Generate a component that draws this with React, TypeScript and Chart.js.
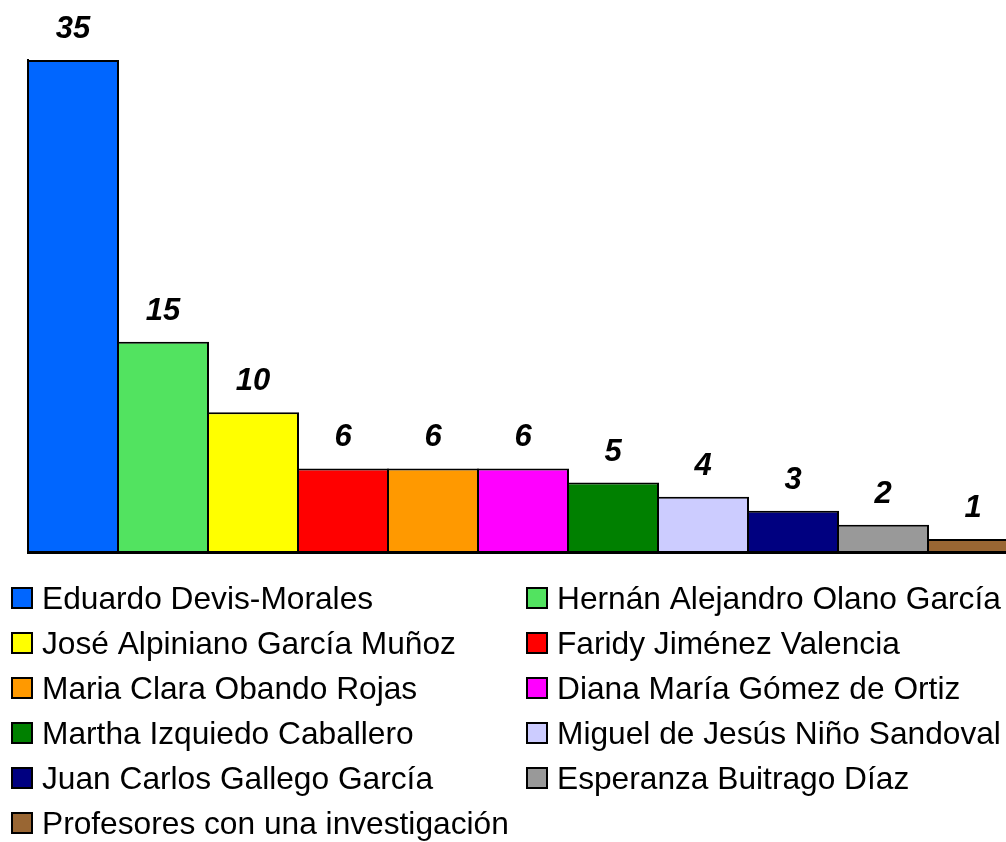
import React, { useEffect, useRef } from "react";
import { Chart, registerables } from "chart.js";

Chart.register(...registerables);

const names = [
  "Eduardo Devis-Morales",
  "Hernán Alejandro Olano García",
  "José Alpiniano García Muñoz",
  "Faridy Jiménez Valencia",
  "Maria Clara Obando Rojas",
  "Diana María Gómez de Ortiz",
  "Martha Izquiedo Caballero",
  "Miguel de Jesús Niño Sandoval",
  "Juan Carlos Gallego García",
  "Esperanza Buitrago Díaz",
  "Profesores con una investigación",
];

const counts = [35, 15, 10, 6, 6, 6, 5, 4, 3, 2, 1];

const colors = [
  "#0066FF",
  "#52E360",
  "#FFFF00",
  "#FF0000",
  "#FF9900",
  "#FF00FF",
  "#008000",
  "#CCCCFF",
  "#000080",
  "#999999",
  "#996633",
];

const FONT = "'Liberation Sans', Arial, sans-serif";

const valueLabels = {
  id: "valueLabels",
  afterDatasetsDraw(chart: any) {
    const ctx = chart.ctx;
    const meta = chart.getDatasetMeta(0);
    ctx.save();
    ctx.font = `italic bold 31px ${FONT}`;
    ctx.fillStyle = "#000";
    ctx.textAlign = "center";
    ctx.textBaseline = "alphabetic";
    meta.data.forEach((el: any, i: number) => {
      const v = chart.data.datasets[0].data[i];
      ctx.fillText(String(v), el.x, el.y - 22);
    });
    ctx.restore();
  },
};

const gridLegend = {
  id: "gridLegend",
  afterDraw(chart: any) {
    const ctx = chart.ctx;
    const labels: string[] = chart.data.labels;
    const bg: string[] = chart.data.datasets[0].backgroundColor;
    const colX = [12, 527];
    const top0 = chart.chartArea.bottom + 35;
    const rowH = 45;
    ctx.save();
    ctx.font = `31.7px ${FONT}`;
    ctx.textBaseline = "alphabetic";
    ctx.textAlign = "left";
    labels.forEach((lab, i) => {
      const col = i % 2;
      const row = Math.floor(i / 2);
      const x = colX[col];
      const y = top0 + row * rowH;
      ctx.fillStyle = bg[i];
      ctx.fillRect(x, y, 20, 20);
      ctx.strokeStyle = "#000";
      ctx.lineWidth = 2;
      ctx.strokeRect(x, y, 20, 20);
      ctx.fillStyle = "#000";
      ctx.fillText(lab, x + 30, y + 21);
    });
    ctx.restore();
  },
};

export default function App() {
  const ref = useRef<HTMLCanvasElement>(null);
  useEffect(() => {
    if (!ref.current) return;
    const chart = new Chart(ref.current, {
      type: "bar",
      data: {
        labels: names,
        datasets: [
          {
            data: counts,
            backgroundColor: colors,
            borderColor: "#000",
            borderWidth: 2,
            borderSkipped: false,
            categoryPercentage: 1,
            barPercentage: 92 / 90,
          },
        ],
      },
      options: {
        responsive: false,
        animation: false,
        devicePixelRatio: 1,
        layout: { padding: { left: 28, top: 60, right: 2, bottom: 289 } },
        plugins: {
          legend: { display: false },
          tooltip: { enabled: false },
        },
        scales: {
          x: {
            ticks: { display: false },
            grid: { display: false, drawTicks: false },
            border: { display: true, color: "#000", width: 2 },
          },
          y: {
            min: 0,
            max: 35,
            ticks: { display: false },
            grid: { display: false, drawTicks: false },
            border: { display: true, color: "#000", width: 2 },
          },
        },
      },
      plugins: [valueLabels, gridLegend],
    });
    return () => chart.destroy();
  }, []);
  return (
    <div
      style={{
        position: "fixed",
        left: 0,
        top: 0,
        width: 1006,
        height: 842,
        overflow: "hidden",
        background: "#fff",
      }}
    >
      <canvas ref={ref} width={1020} height={842} style={{ display: "block" }} />
    </div>
  );
}
